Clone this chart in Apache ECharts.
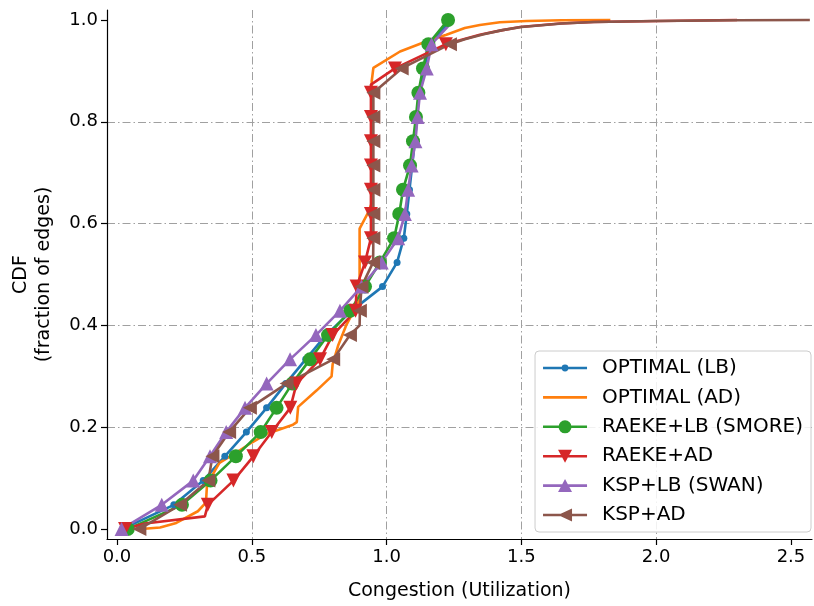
<!DOCTYPE html>
<html><head><meta charset="utf-8">
<script src="https://cdn.jsdelivr.net/npm/echarts@6/dist/echarts.min.js"></script>
<style>html,body{margin:0;padding:0;background:#fff}#c{width:814px;height:606px}</style>
</head><body><div id="c"></div>
<script>
// CDF levels at which markers are drawn (k/21)
const cdfLevels = [0, 0.0476, 0.0952, 0.1429, 0.1905, 0.2381, 0.2857, 0.3333, 0.3810, 0.4286, 0.4762,
  0.5238, 0.5714, 0.6190, 0.6667, 0.7143, 0.7619, 0.8095, 0.8571, 0.9048, 0.9524, 1.0];
const xTicks = [0, 0.5, 1.0, 1.5, 2.0, 2.5];
const yTicks = [0, 0.2, 0.4, 0.6, 0.8, 1.0];
const seriesNames = ['OPTIMAL (LB)', 'OPTIMAL (AD)', 'RAEKE+LB (SMORE)', 'RAEKE+AD', 'KSP+LB (SWAN)', 'KSP+AD'];

// x values (congestion) at each marker level
const optLbX = [0.02, 0.211, 0.32, 0.40, 0.48, 0.555, 0.626, 0.70, 0.775, 0.87, 0.985, 1.039, 1.064, 1.075, 1.085, 1.095, 1.105, 1.113, 1.12, 1.14, 1.16];
const optLbExtra = [[1.24, 1.0]];

const optAdExtra = [[0.09, 0], [0.16, 0.003], [0.22, 0.012], [0.30, 0.035], [0.33, 0.052], [0.334, 0.088], [0.38, 0.13], [0.43, 0.146],
  [0.50, 0.17], [0.555, 0.187], [0.60, 0.195], [0.653, 0.205], [0.667, 0.21], [0.672, 0.24], [0.74, 0.272], [0.796, 0.30],
  [0.80, 0.324], [0.82, 0.36], [0.85, 0.40], [0.90, 0.45], [0.90, 0.59], [0.93, 0.62], [0.945, 0.64], [0.945, 0.88],
  [0.951, 0.906], [1.05, 0.938], [1.149, 0.958], [1.222, 0.971], [1.29, 0.984], [1.346, 0.99], [1.42, 0.9955],
  [1.52, 0.998], [1.65, 0.9995], [1.83, 1.0]];

const raekeLbX = [0.04, 0.241, 0.347, 0.441, 0.533, 0.592, 0.65, 0.716, 0.783, 0.865, 0.92, 0.975, 1.028, 1.047, 1.061, 1.087, 1.098, 1.109, 1.118, 1.135, 1.155, 1.228];
const raekeLbExtra = [];

const raekeAdX = [0.03, 0.337, 0.432, 0.506, 0.574, 0.643, 0.666, 0.753, 0.80, 0.885, 0.889, 0.92, 0.942, 0.942, 0.942, 0.942, 0.942, 0.942, 0.942, 1.031, 1.22];
const raekeAdExtra = [[0.104, 0.011], [0.326, 0.025], [0.942, 0.873], [1.272, 0.96], [1.346, 0.971], [1.42, 0.979], [1.495, 0.986],
  [1.643, 0.993], [1.766, 0.996], [2.01, 0.998], [2.3, 1.0]];

const kspLbX = [0.017, 0.166, 0.283, 0.345, 0.405, 0.475, 0.555, 0.642, 0.738, 0.827, 0.907, 0.982, 1.043, 1.068, 1.08, 1.093, 1.107, 1.115, 1.124, 1.149, 1.167];
const kspLbExtra = [[1.25, 1.0]];

const kspAdX = [0.083, 0.234, 0.339, 0.354, 0.416, 0.493, 0.629, 0.802, 0.864, 0.901, 0.907, 0.95, 0.951, 0.951, 0.951, 0.951, 0.951, 0.951, 0.951, 1.056, 1.235];
const kspAdExtra = [[0.90, 0.40], [1.29, 0.962], [1.36, 0.972], [1.43, 0.98], [1.5, 0.986], [1.65, 0.993], [1.77, 0.996],
  [2.0, 0.998], [2.3, 0.9995], [2.57, 1.0]];

function build(markX, extra) {
  const pts = markX.map((x, i) => ({ value: [x, cdfLevels[i]] }));
  extra.forEach(p => pts.push({ value: p, symbol: 'none' }));
  pts.sort((a, b) => (a.value[1] - b.value[1]) || (a.value[0] - b.value[0]));
  return pts;
}

const colors = ['#1f77b4', '#ff7f0e', '#2ca02c', '#d62728', '#9467bd', '#8c564b'];
const FONT = 'DejaVu Sans';
const gridStyle = { color: '#a0a0a0', width: 1, type: [8, 3, 1.5, 3] };

// legend icons (line + marker), drawn in a 44x14 box
const LINE = 'M0,5.7H44V8.3H0Z';
const legendIcons = [
  'path://' + LINE + 'M18.6,7a3.4,3.4 0 1,1 6.8,0a3.4,3.4 0 1,1 -6.8,0Z',
  'path://' + LINE,
  'path://' + LINE + 'M15.5,7a6.5,6.5 0 1,1 13,0a6.5,6.5 0 1,1 -13,0Z',
  'path://' + LINE + 'M15,0.5H29L22,13.5Z',
  'path://' + LINE + 'M22,0.5L29,13.5H15Z',
  'path://' + LINE + 'M15,7L29,0.5V13.5Z'
];

function mk(i, data, symbol, size, rotate) {
  return {
    name: seriesNames[i], type: 'line', data: data, color: colors[i],
    symbol: symbol, symbolSize: size, symbolRotate: rotate || 0, showSymbol: symbol !== 'none',
    lineStyle: { width: 2.6, color: colors[i] }, itemStyle: { color: colors[i], borderWidth: 0 },
    clip: false, emphasis: { disabled: true }, animation: false
  };
}

const chart = echarts.init(document.getElementById('c'), null, { renderer: 'canvas' });
const tickFmt = v => {
  const r = Math.round(v * 10) / 10;
  return Math.abs(v - r) < 1e-6 ? r.toFixed(1) : '';
};
chart.setOption({
  animation: false,
  backgroundColor: '#fff',
  textStyle: { fontFamily: FONT },
  grid: { left: 107, right: 2, top: 10, bottom: 63, containLabel: false },
  xAxis: {
    type: 'value', min: -0.037, max: 2.578,
    name: 'Congestion (Utilization)', nameLocation: 'middle', nameGap: 43,
    nameTextStyle: { fontSize: 19, color: '#000', fontFamily: FONT },
    axisLine: { show: true, onZero: false, lineStyle: { color: '#000', width: 1.2 } },
    axisTick: { show: true, length: 6, customValues: xTicks, lineStyle: { color: '#000', width: 1.2 } },
    axisLabel: { customValues: xTicks, formatter: tickFmt, fontSize: 18, color: '#000', margin: 9, fontFamily: FONT },
    splitLine: { show: true, showMinLine: false, showMaxLine: false, lineStyle: gridStyle }
  },
  yAxis: {
    type: 'value', min: -0.0195, max: 1.0195,
    name: 'CDF\n(fraction of edges)', nameLocation: 'middle', nameGap: 51, nameRotate: 90,
    nameTextStyle: { fontSize: 19, color: '#000', lineHeight: 23, fontFamily: FONT, align: 'center' },
    axisLine: { show: true, onZero: false, lineStyle: { color: '#000', width: 1.2 } },
    axisTick: { show: true, length: 6, customValues: yTicks, lineStyle: { color: '#000', width: 1.2 } },
    axisLabel: { customValues: yTicks, formatter: tickFmt, fontSize: 18, color: '#000', margin: 9, fontFamily: FONT },
    splitLine: { show: true, showMinLine: false, showMaxLine: false, lineStyle: gridStyle }
  },
  legend: {
    orient: 'vertical', right: 3, bottom: 74,
    backgroundColor: 'rgba(255,255,255,0.85)', borderColor: '#cccccc', borderWidth: 1, borderRadius: 4,
    padding: [7, 8, 7, 8], itemWidth: 44, itemHeight: 14, itemGap: 9.4,
    textStyle: { fontSize: 20, lineHeight: 20, color: '#000', fontFamily: FONT, padding: [0, 0, 0, 10] },
    data: seriesNames.map((n, i) => ({ name: n, icon: legendIcons[i] }))
  },
  series: [
    mk(0, build(optLbX, optLbExtra), 'circle', 7),
    mk(1, build([], optAdExtra), 'none', 0),
    mk(2, build(raekeLbX, raekeLbExtra), 'circle', 14),
    mk(3, build(raekeAdX, raekeAdExtra), 'triangle', 14, 180),
    mk(4, build(kspLbX, kspLbExtra), 'triangle', 14),
    mk(5, build(kspAdX, kspAdExtra), 'triangle', 14, 90)
  ]
});
</script></body></html>
